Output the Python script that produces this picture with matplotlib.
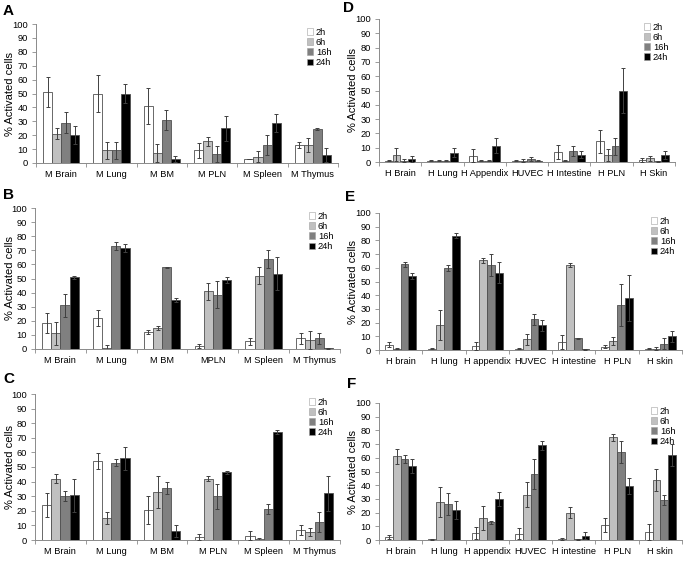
import matplotlib.pyplot as plt
import numpy as np

plt.rcParams['font.family'] = ['Liberation Sans', 'DejaVu Sans']

W, H = 684, 562

series = ['2h', '6h', '16h', '24h']
colors = ['white', '#c0c0c0', '#808080', 'black']

# panel A
a_cats = ['M Brain', 'M Lung', 'M BM', 'M PLN', 'M Spleen', 'M Thymus']
a_vals = [[51, 50, 41, 9, 3, 13],
          [21, 9, 7.5, 15.5, 4.5, 13],
          [29, 9, 31, 6.5, 13, 24.5],
          [20, 50, 3, 25, 29, 5.5]]
a_err = [[11, 13.5, 13, 5.5, 0, 2],
         [4, 6, 6.5, 3, 4, 5],
         [7.5, 6, 7, 6, 7, 0.5],
         [6.5, 7, 2, 9, 6.5, 5]]

# panel B
b_cats = ['M Brain', 'M Lung', 'M BM', 'MPLN', 'M Spleen', 'M Thymus']
b_vals = [[18.5, 22, 12, 2, 5.5, 7.5],
          [11, 1, 15, 41, 52, 6.5],
          [31, 73, 58, 38.5, 64, 7.5],
          [51, 71.5, 35, 49, 53.5, 0.5]]
b_err = [[7, 6, 1.5, 1.5, 2.5, 4],
         [8.5, 2, 1.5, 6, 6, 6.5],
         [8, 3, 0.5, 9.5, 6.5, 4],
         [1, 3, 1.5, 2, 12, 0.2]]

# panel C
c_cats = ['M Brain', 'M Lung', 'M BM', 'M PLN', 'M Spleen', 'M Thymus']
c_vals = [[24, 54, 20.5, 2, 3, 7],
          [42, 15, 33, 42, 0.5, 5.5],
          [30, 53, 35.5, 30, 21, 12.5],
          [30.5, 56, 6, 46.5, 74, 32]]
c_err = [[8, 5.5, 9.5, 2, 3, 3.5],
         [3, 4, 11, 1.5, 1, 3],
         [3.5, 2.5, 4, 8.5, 3.5, 7],
         [11, 8, 4, 1, 1.5, 12]]

# panel D
d_cats = ['H Brain', 'H Lung', 'H Appendix', 'HUVEC', 'H Intestine', 'H PLN', 'H Skin']
d_vals = [[1, 1, 4.5, 1, 7, 14.5, 1.5],
          [5, 1, 1, 1, 1, 5, 2.5],
          [1, 1, 1, 2, 7.5, 11, 0.5],
          [2, 6.5, 11.5, 1, 5, 50, 5]]
d_err = [[0.5, 0.3, 4.5, 0.5, 5, 8, 1.5],
         [4.5, 0.3, 0.5, 1, 0.5, 4, 1.5],
         [1, 0.3, 0.3, 1.5, 3.5, 6, 0.3],
         [2, 3, 5, 0.5, 2.5, 16, 3]]

# panel E
e_cats = ['H brain', 'H lung', 'H appendix', 'HUVEC', 'H intestine', 'H PLN', 'H skin']
e_vals = [[4, 1, 3, 1, 6, 2.5, 1],
          [1, 18, 65.5, 8, 62, 6.5, 1],
          [62.5, 60, 62, 22.5, 8.5, 33, 4.5],
          [54, 83.5, 56.5, 18, 0.5, 38, 10]]
e_err = [[2, 0.3, 3, 0.3, 5, 1, 0.5],
         [0.3, 11, 2, 4, 1.5, 3, 1],
         [2, 2, 8, 4, 0.5, 15.5, 4],
         [2, 2, 7.5, 4, 0.3, 16.5, 4]]

# panel F
f_cats = ['H brain', 'H lung', 'H appendix', 'HUVEC', 'H intestine', 'H PLN', 'H skin']
f_vals = [[2, 0.5, 5, 4.5, 0.8, 11, 6],
          [61, 28, 16, 33, 20, 75, 44],
          [59, 26, 13, 48, 0.5, 64, 29],
          [54, 22, 30, 69, 3, 39.5, 62]]
f_err = [[1.5, 0.2, 4.5, 4, 0.5, 5, 6],
         [5.5, 11, 8.5, 9, 4, 2.5, 8],
         [3, 8, 1, 11, 0.3, 8, 3.5],
         [5, 6.5, 5, 3, 2.5, 6, 8]]

# (letter, cats, vals, err, left, right, top, bottom, letter x, letter y, ylabel x) in pixels
panels = [
    ('A', a_cats, a_vals, a_err, 36, 338, 24, 163, 3, 11, 15),
    ('B', b_cats, b_vals, b_err, 35, 340, 208, 349, 3, 195, 15),
    ('C', c_cats, c_vals, c_err, 35, 340, 394, 540, 3, 379, 15),
    ('D', d_cats, d_vals, d_err, 379, 675, 19, 162, 343, 8, 358),
    ('E', e_cats, e_vals, e_err, 379, 682, 213, 350, 345, 197, 358),
    ('F', f_cats, f_vals, f_err, 379, 682, 403, 540, 347, 384, 358),
]

fig = plt.figure(figsize=(W / 100, H / 100), dpi=100)
axis_col = '#8a8a8a'
bw = 0.18

for letter, cats, vals, err, l, r, t, b, lx, ly, yx in panels:
    ax = fig.add_axes([l / W, 1 - b / H, (r - l) / W, (b - t) / H])
    x = np.arange(len(cats))
    for i, s in enumerate(series):
        pos = x + (i - 1.5) * bw
        ax.bar(pos, vals[i], bw, color=colors[i], edgecolor='#505050',
               linewidth=0.6, label=s, zorder=2)
        ax.errorbar(pos, vals[i], yerr=err[i], fmt='none', ecolor='#404040',
                    elinewidth=0.7, capsize=1.5, capthick=0.7, zorder=3)
    ax.set_xlim(-0.5, len(cats) - 0.5)
    ax.set_ylim(0, 100)
    ax.set_yticks(range(0, 101, 10))
    ax.set_xticks(x)
    ax.set_xticklabels(cats)
    ax.set_xticks(np.arange(len(cats) + 1) - 0.5, minor=True)
    ax.tick_params(axis='x', which='major', length=0, labelsize=6.7, pad=5)
    ax.tick_params(axis='x', which='minor', length=3, color=axis_col, width=0.6)
    ax.tick_params(axis='y', length=3, color=axis_col, width=0.6, labelsize=6.7, pad=3)
    for sp in ['top', 'right']:
        ax.spines[sp].set_visible(False)
    for sp in ['left', 'bottom']:
        ax.spines[sp].set_color(axis_col)
        ax.spines[sp].set_linewidth(0.7)
    ax.set_ylabel('% Activated cells', fontsize=8)
    ax.yaxis.set_label_coords((yx - l) / (r - l), 0.5)
    leg = ax.legend(loc='upper right', bbox_to_anchor=(1.0, 1.02), frameon=False,
                    fontsize=6.7, handlelength=0.7, handleheight=0.7,
                    handletextpad=0.3, labelspacing=0.12, borderpad=0.2)
    for h in leg.legend_handles:
        h.set_edgecolor('#a0a0a0')
        h.set_linewidth(0.4)
    fig.text(lx / W, 1 - ly / H, letter, fontsize=11, fontweight='bold',
             ha='left', va='center')

fig.savefig('out.png', dpi=100)
